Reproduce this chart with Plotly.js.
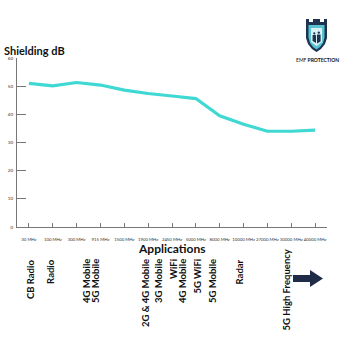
<!DOCTYPE html>
<html>
<head>
<meta charset="utf-8">
<script src="https://cdn.plot.ly/plotly-3.0.1.min.js"></script>
<style>html,body{margin:0;padding:0;background:#fff;}#chart{width:340px;height:340px;}</style>
</head>
<body>
<div id="chart"></div>
<script>
// ---- data ----
var frequencies = ["30 MHz","100 MHz","300 MHz","915 MHz","1500 MHz","1900 MHz","2450 MHz","5000 MHz","8000 MHz","10000 MHz","27000 MHz","30000 MHz","40000 MHz"];
var shieldingDb = [51, 50.1, 51.3, 50.4, 48.6, 47.4, 46.5, 45.6, 39.5, 36.5, 34, 34, 34.4];
var yTicks = [0, 10, 20, 30, 40, 50, 60];
var appNames = ["CB Radio","Radio","4G Mobile","5G Mobile","2G & 4G Mobile","3G Mobile","WiFi","4G Mobile","5G WiFi","5G Mobile","Radar","5G High Frequency"];
var appPos = [0.05, 0.9, 2.39, 2.77, 4.87, 5.41, 6.04, 6.42, 7.05, 7.68, 8.85, 10.82];

// ---- layout helpers (pixel -> paper) ----
var L = 17, R = 13, T = 58, B = 113, W = 340, H = 340;
var pw = W - L - R, ph = H - T - B;
function px(x){ return (x - L) / pw; }
function py(y){ return (H - B - y) / ph; }
function path(pts){ return pts.map(function(p,i){return (i?'L':'M')+px(p[0]).toFixed(4)+','+py(p[1]).toFixed(4);}).join(' ')+' Z'; }

var FONT = "Lato, Roboto, 'DejaVu Sans', sans-serif";

var annotations = [];
appNames.forEach(function(n, i){
  var isHigh = n === "5G High Frequency";
  annotations.push({
    x: appPos[i], xref: 'x', y: isHigh ? py(247) : py(257), yref: 'paper',
    text: '<b>' + n + '</b>', showarrow: false, textangle: -90,
    xanchor: 'center', yanchor: 'top',
    font: {family: FONT, size: 9.5, color: '#111'}
  });
});
annotations.push({x: px(2), y: py(50), xref:'paper', yref:'paper', xanchor:'left', yanchor:'middle',
  text:'<b>Shielding dB</b>', showarrow:false, font:{family:FONT, size:11, color:'#111'}});
annotations.push({x: px(171), y: py(248), xref:'paper', yref:'paper', xanchor:'center', yanchor:'middle',
  text:'<b>Applications</b>', showarrow:false, font:{family:FONT, size:12, color:'#111'}});
annotations.push({x: px(317), y: py(60), xref:'paper', yref:'paper', xanchor:'center', yanchor:'middle',
  text:'EMF <b>PROTECTION</b>', showarrow:false, font:{family:FONT, size:5, color:'#111'}});

var shapes = [
  // arrow
  {type:'path', xref:'paper', yref:'paper', layer:'above', line:{width:0}, fillcolor:'#1f2b47',
   path: path([[293,275],[310,275],[310,270],[323,278.5],[310,287],[310,282],[293,282]])},
  // logo shield outer
  {type:'path', xref:'paper', yref:'paper', layer:'above', line:{width:0}, fillcolor:'#1d3350',
   path: path([[306,19],[309,19],[309,22],[313,22],[313,19],[320,19],[320,22],[324,22],[324,19],[327,19],[327,38],[325,44],[321,49],[316.5,52],[312,49],[308,44],[306,38]])},
  // shield inner
  {type:'path', xref:'paper', yref:'paper', layer:'above', line:{width:0}, fillcolor:'#58c3d2',
   path: path([[308.5,25],[324.5,25],[324.5,37.5],[323,43],[320,47],[316.5,49.5],[313,47],[310,43],[308.5,37.5]])},
  // inner light panel
  {type:'path', xref:'paper', yref:'paper', layer:'above', line:{width:0}, fillcolor:'#d8f2f5',
   path: path([[311,28],[322,28],[322,42],[316.5,46],[311,42]])},
  // people
  {type:'circle', xref:'paper', yref:'paper', layer:'above', line:{width:0}, fillcolor:'#1d3350',
   x0:px(313.2), x1:px(315.4), y0:py(34.5), y1:py(32.3)},
  {type:'path', xref:'paper', yref:'paper', layer:'above', line:{width:0}, fillcolor:'#1d3350',
   path: path([[312.6,35],[316,35],[316,43],[312.6,41]])},
  {type:'circle', xref:'paper', yref:'paper', layer:'above', line:{width:0}, fillcolor:'#1d3350',
   x0:px(317.6), x1:px(320), y0:py(33.8), y1:py(31.4)},
  {type:'path', xref:'paper', yref:'paper', layer:'above', line:{width:0}, fillcolor:'#1d3350',
   path: path([[317,34.5],[320.6,34.5],[320.6,41.5],[317,43.5]])}
];

var trace = {
  x: frequencies.map(function(_, i){ return i; }),
  y: shieldingDb,
  type: 'scatter', mode: 'lines',
  line: {color: '#3fd8d3', width: 3.2},
  hoverinfo: 'skip'
};

var layout = {
  width: W, height: H,
  margin: {l: L, r: R, t: T, b: B, pad: 0},
  paper_bgcolor: '#fff', plot_bgcolor: '#fff',
  showlegend: false,
  font: {family: FONT, color: '#333'},
  xaxis: {
    range: [-0.5, frequencies.length - 0.5],
    tickmode: 'array', tickvals: frequencies.map(function(_, i){ return i; }), ticktext: frequencies,
    showline: true, linecolor: '#777', linewidth: 1,
    ticks: 'inside', ticklen: 4, tickcolor: '#777', tickson: 'boundaries',
    showgrid: false, zeroline: false, fixedrange: true,
    tickangle: 0, tickfont: {family: FONT, size: 4.3, color: '#333'},
    ticklabelstandoff: 8
  },
  yaxis: {
    range: [0, 60],
    tickmode: 'array', tickvals: yTicks, ticktext: yTicks.map(String),
    showline: true, linecolor: '#777', linewidth: 1,
    ticks: 'inside', ticklen: 9, tickcolor: '#777',
    showgrid: false, zeroline: false, fixedrange: true,
    tickfont: {family: FONT, size: 4.5, color: '#333'},
    ticklabelstandoff: 2
  },
  annotations: annotations,
  shapes: shapes
};

Plotly.newPlot('chart', [trace], layout, {staticPlot: true, displayModeBar: false});
</script>
</body>
</html>
